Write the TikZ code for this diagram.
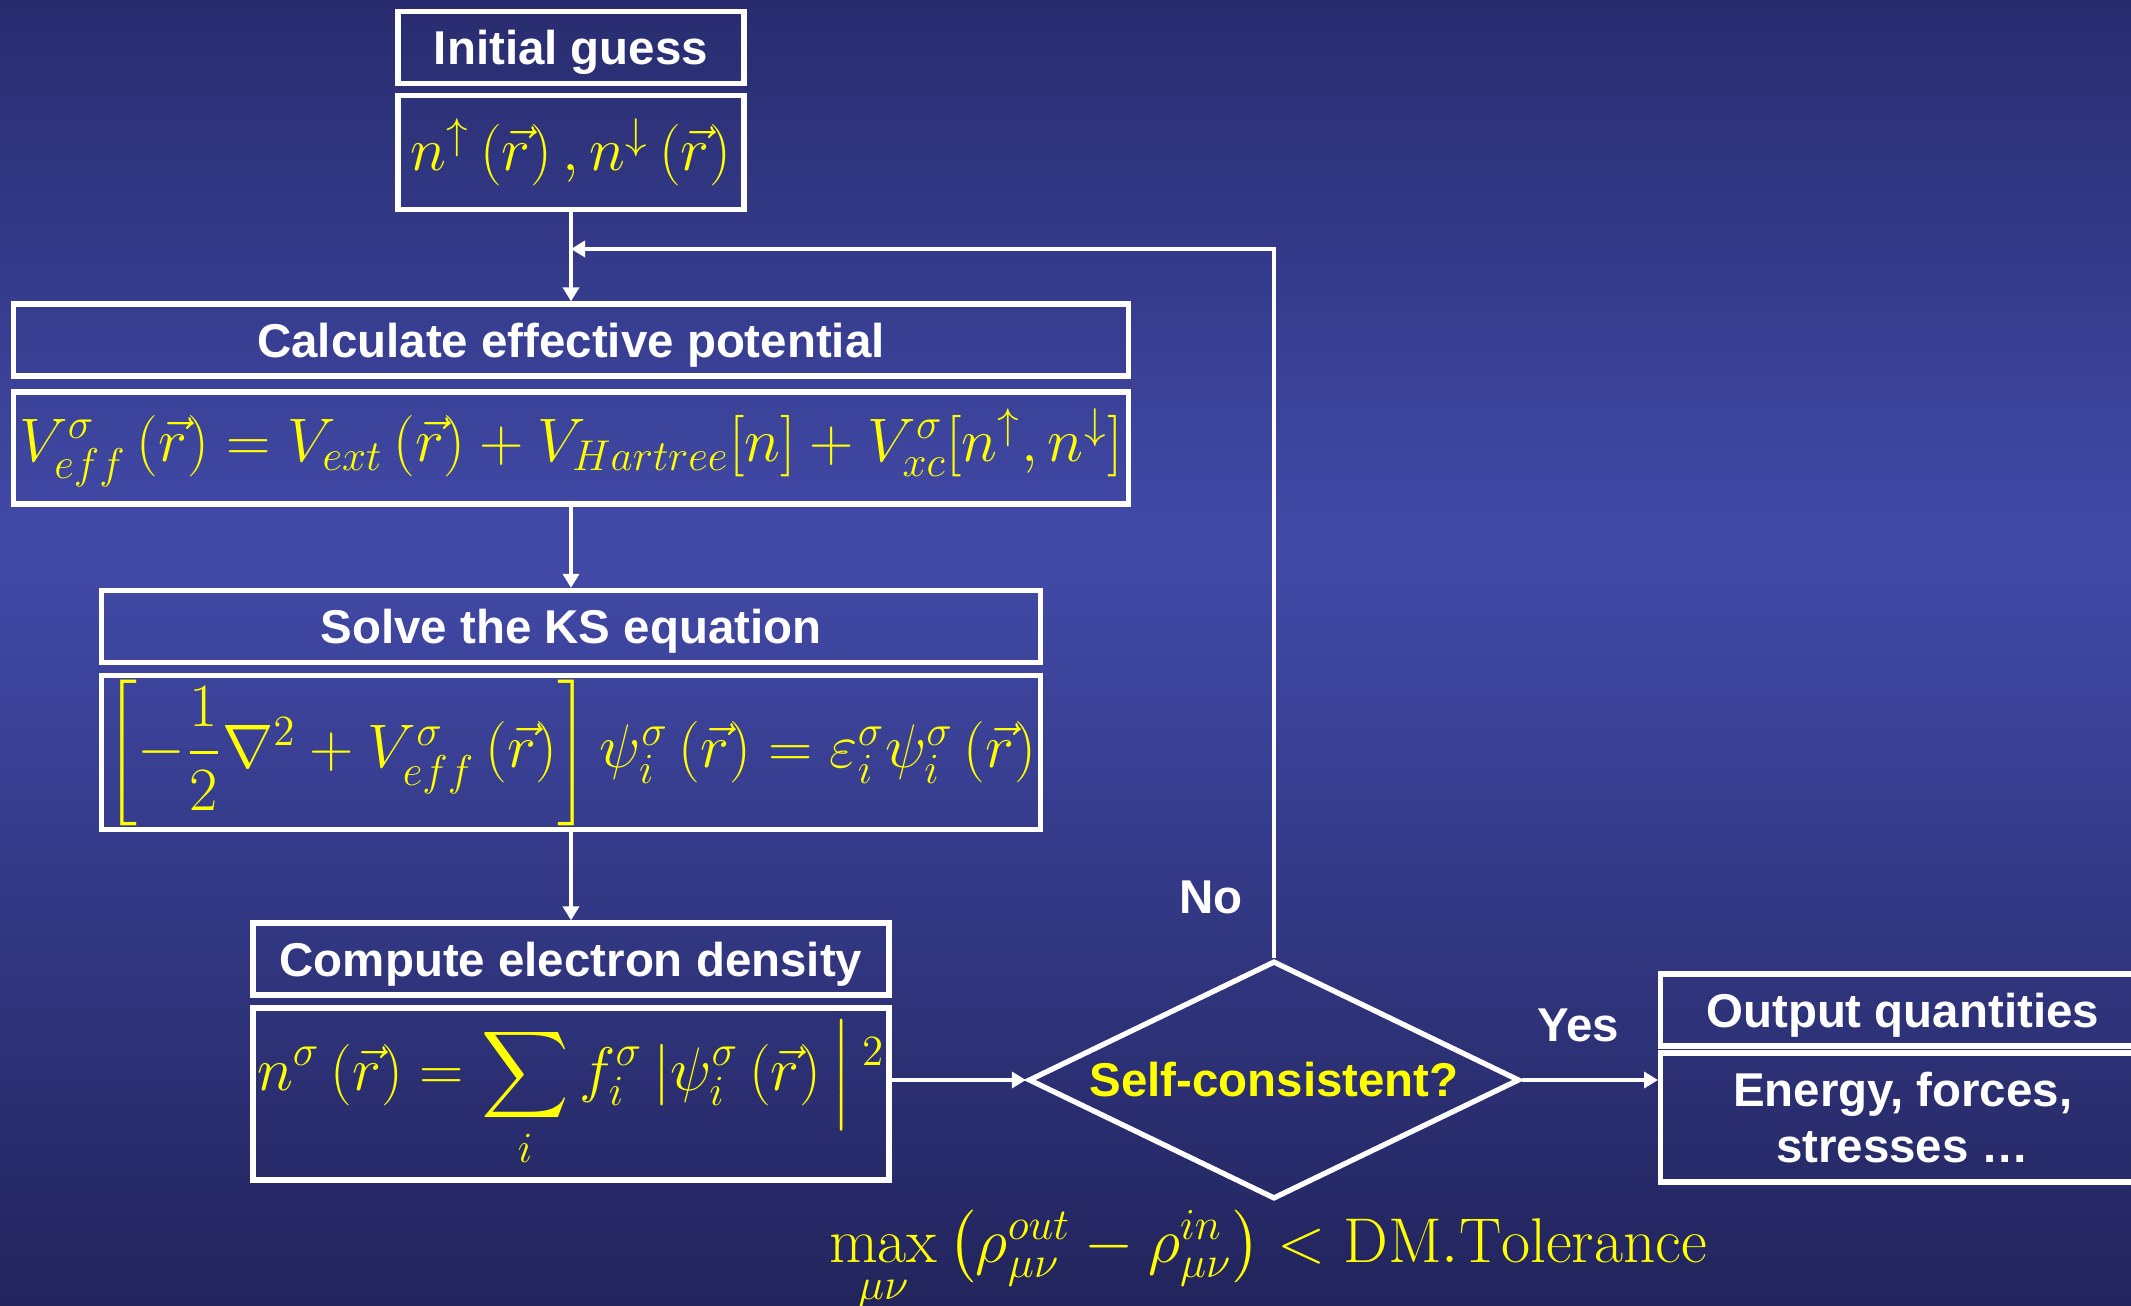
\RequirePackage{fix-cm}
\documentclass[tikz,border=0pt]{standalone}
\usepackage{amsmath}
\usepackage{fontspec}
\setsansfont{Liberation Sans}
\usetikzlibrary{positioning, arrows.meta, shapes.geometric}

\definecolor{bgtop}{RGB}{40,44,110}
\definecolor{bgmid}{RGB}{66,74,168}
\definecolor{bgbot}{RGB}{34,36,92}
\definecolor{eqyellow}{RGB}{255,255,0}

\newcommand{\labsize}{\fontsize{13.5}{16}\selectfont}
\newcommand{\eqsize}{\fontsize{17.5}{21}\selectfont}

\tikzset{
  titlebox/.style={draw=white, line width=1.5pt, minimum height=0.72cm, inner sep=0pt,
    text height=9.7pt, text depth=0pt, text=white, font=\labsize\sffamily\bfseries},
  mathbox/.style={draw=white, line width=1.5pt, inner sep=0pt, text=eqyellow, font=\eqsize},
  flow/.style={draw=white, line width=1.2pt, -{Triangle[length=1.4mm, width=1.6mm]}},
  answer/.style={text=white, font=\labsize\sffamily\bfseries}
}

\begin{document}
\begin{tikzpicture}
  \useasboundingbox (0,0) rectangle (21.31,-13.06);
  \shade[top color=bgtop, bottom color=bgmid] (0,0) rectangle (21.31,-5.45);
  \shade[top color=bgmid, bottom color=bgbot] (0,-5.45) rectangle (21.31,-13.06);

  % main column
  \node[titlebox, minimum width=3.46cm] (guess) at (5.71,-0.475) {Initial guess};
  \node[mathbox, minimum width=3.46cm, minimum height=1.14cm, below=0.067cm of guess] (guessval)
    {$n^{\uparrow}\left(\vec{r}\right), n^{\downarrow}\left(\vec{r}\right)$};

  \node[titlebox, minimum width=11.15cm] (pot) at (5.71,-3.40) {Calculate effective potential};
  \node[mathbox, minimum width=11.15cm, minimum height=1.12cm, below=0.107cm of pot] (potval)
    {$V^{\sigma}_{eff}\left(\vec{r}\right) = V_{ext}\left(\vec{r}\right) + V_{Hartree}[n] + V^{\sigma}_{xc}[n^{\uparrow}, n^{\downarrow}]$};

  \node[titlebox, minimum width=9.39cm] (ks) at (5.71,-6.265) {Solve the KS equation};
  \node[mathbox, minimum width=9.39cm, minimum height=1.54cm, below=0.077cm of ks] (ksval)
    {$\left[-\dfrac{1}{2}\nabla^{2} + V^{\sigma}_{eff}\left(\vec{r}\right)\right]\psi^{\sigma}_{i}\left(\vec{r}\right) = \varepsilon^{\sigma}_{i}\psi^{\sigma}_{i}\left(\vec{r}\right)$};

  \node[titlebox, minimum width=6.36cm] (dens) at (5.71,-9.59) {Compute electron density};
  \node[mathbox, minimum width=6.36cm, minimum height=1.72cm, below=0.077cm of dens] (densval)
    {$\displaystyle n^{\sigma}\left(\vec{r}\right) = \sum_{i} f^{\sigma}_{i}\,|\psi^{\sigma}_{i}\left(\vec{r}\right)\Big|\,{}^{2}$};

  % convergence check
  \node[diamond, draw=white, line width=1.5pt, aspect=2.06, minimum width=4.91cm, minimum height=2.38cm,
    inner sep=0pt, text=eqyellow, font=\labsize\sffamily\bfseries] (check) at (12.74,-10.80) {Self-consistent?};
  \node[answer] (no) at (12.11,-8.97) {No};
  \node[answer] (yes) at (15.78,-10.25) {Yes};

  \node[titlebox, minimum width=4.84cm, anchor=west] (out) at (16.58,-10.10) {Output quantities};
  \node[mathbox, minimum width=4.84cm, minimum height=1.29cm, below=0.017cm of out, text=white,
    font=\labsize\sffamily\bfseries, align=center] (outval) {Energy, forces,\\ stresses \dots};

  \node[text=eqyellow, font=\fontsize{18}{22}\selectfont] (tol) at (12.68,-12.62)
    {$\max\limits_{\mu\nu}\left(\rho^{out}_{\mu\nu} - \rho^{in}_{\mu\nu}\right) < \mathrm{DM.Tolerance}$};

  \coordinate (back) at (5.71,-2.49);

  \draw[flow] (guessval) -- (pot);
  \draw[flow] (potval) -- (ks);
  \draw[flow] (ksval) -- (dens);
  \draw[flow] (densval.east |- check.west) -- (check.west);
  \draw[flow] (check.east) -- (outval.west |- check.east);
  \draw[flow] (check.north) |- (back);
\end{tikzpicture}
\end{document}
